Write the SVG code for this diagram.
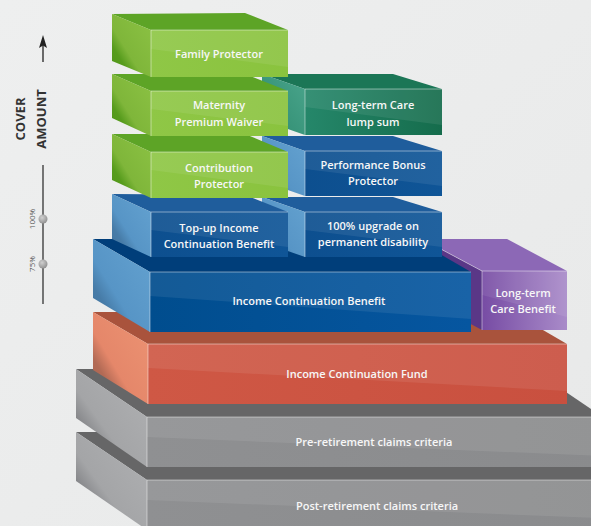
<svg xmlns="http://www.w3.org/2000/svg" width="591" height="526" viewBox="0 0 591 526">
<defs>
<style>
.t{font-family:"Open Sans","Liberation Sans",sans-serif;font-size:11px;font-weight:600;fill:#f7f7f7;text-anchor:middle}
.ax{font-family:"Open Sans","Liberation Sans",sans-serif;font-size:13px;font-weight:700;fill:#333;text-anchor:middle}
.pc{font-family:"Open Sans","Liberation Sans",sans-serif;font-size:8px;fill:#555;text-anchor:middle}
.sh{fill:#fff;fill-opacity:0.08}
.hl{stroke:#fff;stroke-opacity:0.45;stroke-width:1;fill:none}
</style>
<linearGradient id="lgG" x1="1" y1="0" x2="0" y2="1"><stop offset="0" stop-color="#8cc244"/><stop offset="0.6" stop-color="#7fb63a"/><stop offset="0.75" stop-color="#579c1d"/><stop offset="1" stop-color="#4f9418"/></linearGradient>
<linearGradient id="lgB" x1="1" y1="0" x2="0" y2="1"><stop offset="0" stop-color="#64a2d0"/><stop offset="0.6" stop-color="#5795c6"/><stop offset="0.75" stop-color="#477ca8"/><stop offset="1" stop-color="#42739c"/></linearGradient>
<linearGradient id="lgT" x1="1" y1="0" x2="0" y2="1"><stop offset="0" stop-color="#4aa58c"/><stop offset="1" stop-color="#2d8a6e"/></linearGradient>
<linearGradient id="lgR" x1="1" y1="0" x2="0" y2="1"><stop offset="0" stop-color="#ec9373"/><stop offset="0.6" stop-color="#e5876a"/><stop offset="0.75" stop-color="#b26a55"/><stop offset="1" stop-color="#a8624f"/></linearGradient>
<linearGradient id="lgY" x1="1" y1="0" x2="0" y2="1"><stop offset="0" stop-color="#b0b1b3"/><stop offset="0.6" stop-color="#a4a5a7"/><stop offset="0.75" stop-color="#86878a"/><stop offset="1" stop-color="#808184"/></linearGradient>
<linearGradient id="fG" x1="0" y1="0" x2="1" y2="0"><stop offset="0" stop-color="#8fc746"/><stop offset="1" stop-color="#8ac33e"/></linearGradient>
<linearGradient id="fT" x1="0" y1="0" x2="1" y2="0"><stop offset="0" stop-color="#25876a"/><stop offset="1" stop-color="#156c4c"/></linearGradient>
<linearGradient id="fB" x1="0" y1="0" x2="1" y2="0"><stop offset="0" stop-color="#0d4f8f"/><stop offset="1" stop-color="#0f5597"/></linearGradient>
<linearGradient id="fI" x1="0" y1="0" x2="1" y2="0"><stop offset="0" stop-color="#004d8e"/><stop offset="1" stop-color="#0656a0"/></linearGradient>
<linearGradient id="fP" x1="0" y1="0" x2="1" y2="0"><stop offset="0" stop-color="#774ca4"/><stop offset="1" stop-color="#a98bc9"/></linearGradient>
<linearGradient id="fR" x1="0" y1="0" x2="1" y2="0"><stop offset="0" stop-color="#cf5845"/><stop offset="1" stop-color="#c9503f"/></linearGradient>
<linearGradient id="fY" x1="0" y1="0" x2="1" y2="0"><stop offset="0" stop-color="#8f9092"/><stop offset="1" stop-color="#8a8b8d"/></linearGradient>
<radialGradient id="dot" cx="0.4" cy="0.35" r="0.7"><stop offset="0" stop-color="#d0d0d0"/><stop offset="1" stop-color="#8e8e8e"/></radialGradient>
<linearGradient id="bg" x1="0" y1="0" x2="1" y2="1"><stop offset="0" stop-color="#eeefef"/><stop offset="1" stop-color="#e8e9e9"/></linearGradient>
</defs>
<rect width="591" height="526" fill="url(#bg)"/>

<g id="axis">
<line x1="43" y1="62" x2="43" y2="44" stroke="#222" stroke-width="1.3"/>
<polygon points="43,35 39,48 43,45.5 47,48" fill="#222"/>
<line x1="43" y1="165" x2="43" y2="304" stroke="#333" stroke-width="1.3"/>
<circle cx="43" cy="219" r="4.5" fill="url(#dot)"/>
<circle cx="43" cy="264" r="4.5" fill="url(#dot)"/>
<text class="ax" transform="translate(24.5,119) rotate(-90)">COVER</text>
<text class="ax" transform="translate(45.5,119) rotate(-90)">AMOUNT</text>
<text class="pc" transform="translate(34.5,219) rotate(-90)">100%</text>
<text class="pc" transform="translate(34.5,264) rotate(-90)">75%</text>
</g>

<g id="post-retirement">
<polygon points="76,432 540,432 620,480 147,480" fill="#666667"/>
<polygon points="76,432 147,480 147,530 76,481" fill="url(#lgY)"/>
<rect x="147" y="480" width="473" height="50" fill="url(#fY)"/>
<polygon class="sh" points="147,480 620,480 620,519 147,500"/>
<polyline class="hl" points="147,530 147,480 591,480"/>
<text class="t" x="377" y="510">Post-retirement claims criteria</text>
</g>

<g id="pre-retirement">
<polygon points="76,369 532,369 603,417 147,417" fill="#666667"/>
<polygon points="76,369 147,417 147,467 76,418" fill="url(#lgY)"/>
<rect x="147" y="417" width="456" height="50" fill="url(#fY)"/>
<polygon class="sh" points="147,417 603,417 603,456 147,437"/>
<polyline class="hl" points="147,467 147,417 591,417"/>
<text class="t" x="374" y="446">Pre-retirement claims criteria</text>
</g>

<g id="income-continuation-fund">
<polygon points="93,312 512,312 567,344 148,344" fill="#a9533c"/>
<polygon points="93,312 148,344 148,404 93,370" fill="url(#lgR)"/>
<rect x="148" y="344" width="419" height="60" fill="url(#fR)"/>
<polygon class="sh" points="148,344 567,344 567,391 148,368"/>
<polyline class="hl" points="148,404 148,344 567,344"/>
<text class="t" x="357" y="378">Income Continuation Fund</text>
</g>

<g id="long-term-care-benefit">
<polygon points="422,239 507,239 567,271 482,271" fill="#8c68b6"/>
<polygon points="422,239 482,271 482,330 422,298" fill="#5a3787"/>
<rect x="482" y="271" width="85" height="59" fill="url(#fP)"/>
<polygon class="sh" points="482,271 567,271 567,317 482,295"/>
<polyline class="hl" points="482,330 482,271 567,271"/>
<polyline class="hl" points="422,239 482,271"/>
<text class="t" x="523" y="297">Long-term</text>
<text class="t" x="523" y="313">Care Benefit</text>
</g>

<g id="income-continuation-benefit">
<polygon points="93,239 414,239 471,272 150,272" fill="#003e7a"/>
<polygon points="93,239 150,272 150,332 93,298" fill="url(#lgB)"/>
<rect x="150" y="272" width="321" height="60" fill="url(#fI)"/>
<polygon class="sh" points="150,272 471,272 471,319 150,296"/>
<polyline class="hl" points="150,332 150,272 471,272"/>
<text class="t" x="309" y="305">Income Continuation Benefit</text>
</g>

<g id="upgrade-permanent-disability">
<polygon points="262,197 393,197 442,212 305,212" fill="#1f5d9c"/>
<polygon points="262,197 305,212 305,257 262,242" fill="url(#lgB)"/>
<rect x="305" y="212" width="137" height="45" fill="url(#fB)"/>
<polygon class="sh" points="305,212 442,212 442,247 305,230"/>
<polyline class="hl" points="305,257 305,212 442,212"/>
<text class="t" x="373" y="230">100% upgrade on</text>
<text class="t" x="373" y="246">permanent disability</text>
</g>

<g id="top-up-income-continuation-benefit">
<polygon points="112,194 245,195 288,212 151,212" fill="#1f5d9c"/>
<polygon points="112,194 151,212 151,257 112,239" fill="url(#lgB)"/>
<rect x="151" y="212" width="137" height="45" fill="url(#fB)"/>
<polygon class="sh" points="151,212 288,212 288,247 151,230"/>
<polyline class="hl" points="151,257 151,212 288,212"/>
<text class="t" x="219" y="232">Top-up Income</text>
<text class="t" x="219" y="248">Continuation Benefit</text>
</g>

<g id="performance-bonus-protector">
<polygon points="262,136 393,136 442,151 305,151" fill="#1f5d9c"/>
<polygon points="262,136 305,151 305,196 262,181" fill="url(#lgB)"/>
<rect x="305" y="151" width="137" height="45" fill="url(#fB)"/>
<polygon class="sh" points="305,151 442,151 442,186 305,169"/>
<polyline class="hl" points="305,196 305,151 442,151"/>
<text class="t" x="373" y="169">Performance Bonus</text>
<text class="t" x="373" y="185">Protector</text>
</g>

<g id="contribution-protector">
<polygon points="112,134 245,134 288,152 151,152" fill="#5da426"/>
<polygon points="112,134 151,152 151,198 112,180" fill="url(#lgG)"/>
<rect x="151" y="152" width="137" height="46" fill="url(#fG)"/>
<polygon class="sh" points="151,152 288,152 288,188 151,170"/>
<polyline class="hl" points="151,198 151,152 288,152"/>
<text class="t" x="219" y="172">Contribution</text>
<text class="t" x="219" y="188">Protector</text>
</g>

<g id="long-term-care-lump-sum">
<polygon points="262,74 393,74 442,89 305,89" fill="#1b7656"/>
<polygon points="262,74 305,89 305,135 262,120" fill="url(#lgT)"/>
<rect x="305" y="89" width="137" height="46" fill="url(#fT)"/>
<polygon class="sh" points="305,89 442,89 442,125 305,107"/>
<polyline class="hl" points="305,135 305,89 442,89"/>
<text class="t" x="373" y="109">Long-term Care</text>
<text class="t" x="373" y="126">lump sum</text>
</g>

<g id="maternity-premium-waiver">
<polygon points="112,74 245,74 288,91 151,91" fill="#5da426"/>
<polygon points="112,74 151,91 151,136 112,118" fill="url(#lgG)"/>
<rect x="151" y="91" width="137" height="45" fill="url(#fG)"/>
<polygon class="sh" points="151,91 288,91 288,126 151,109"/>
<polyline class="hl" points="151,136 151,91 288,91"/>
<text class="t" x="219" y="109">Maternity</text>
<text class="t" x="219" y="126">Premium Waiver</text>
</g>

<g id="family-protector">
<polygon points="112,14 245,13 288,30 151,30" fill="#5da426"/>
<polygon points="112,14 151,30 151,77 112,61" fill="url(#lgG)"/>
<rect x="151" y="30" width="137" height="47" fill="url(#fG)"/>
<polygon class="sh" points="151,30 288,30 288,67 151,49"/>
<polyline class="hl" points="151,77 151,30 288,30"/>
<text class="t" x="219" y="58">Family Protector</text>
</g>
</svg>
